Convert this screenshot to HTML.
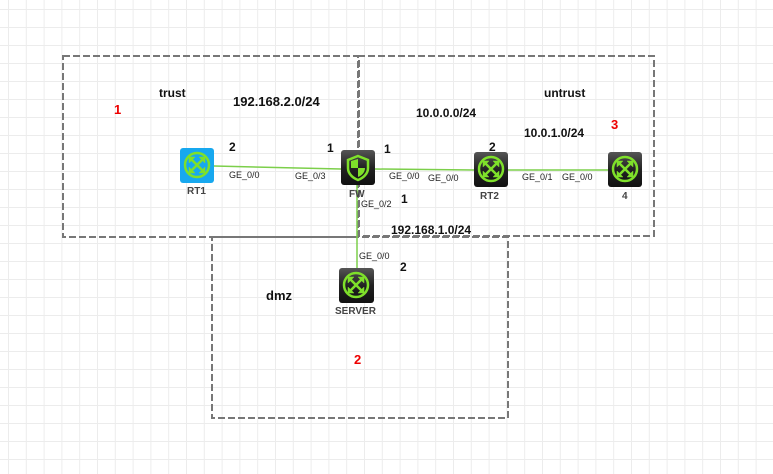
<!DOCTYPE html>
<html><head><meta charset="utf-8"><style>
body{margin:0;width:773px;height:474px;overflow:hidden;background:#fff;font-family:"Liberation Sans",Arial,sans-serif;}
.t{position:absolute;line-height:1;white-space:nowrap;color:#111;}
.b{font-weight:bold;font-size:12px;}
.g{font-size:9px;color:#222;}
.r{color:#e00;font-weight:bold;font-size:13px;}
.n{font-weight:bold;font-size:10px;color:#444;}
</style></head><body>
<svg width="773" height="474" style="position:absolute;left:0;top:0">
<defs>
<pattern id="grid" x="8" y="9" width="17.8" height="18" patternUnits="userSpaceOnUse">
<path d="M0 0V18M0 0H17.8" stroke="#ececec" stroke-width="2" fill="none"/>
</pattern>
<linearGradient id="dk" x1="0" y1="0" x2="0" y2="1"><stop offset="0" stop-color="#555"/><stop offset="0.5" stop-color="#222"/><stop offset="1" stop-color="#111"/></linearGradient>
<g id="rt">
<circle cx="17" cy="17" r="12" fill="none" stroke="#7ee02a" stroke-width="2.5"/>
<g stroke="#7ee02a" stroke-width="2.5" fill="#7ee02a">
<path d="M11 11L23 23M23 11L11 23" fill="none"/>
<path d="M9 9l6 0l-6 6z M25 9l-6 0l6 6z M9 25l6 0l-6-6z M25 25l-6 0l6-6z" stroke-width="0.5"/>
</g>
</g>
</defs>
<rect width="773" height="474" fill="url(#grid)"/>
<g fill="none" stroke="#777" stroke-width="2" stroke-dasharray="7,3">
<rect x="63" y="56" width="296" height="181"/>
<rect x="358" y="56" width="296" height="180"/>
<rect x="212" y="237" width="296" height="181"/>
</g>
<g stroke="#7ccf4a" stroke-width="1.5">
<line x1="214" y1="166" x2="341" y2="169"/>
<line x1="375" y1="169" x2="474" y2="170"/>
<line x1="508" y1="170" x2="608" y2="170"/>
<line x1="357" y1="185" x2="357" y2="268"/>
</g>
<g transform="translate(180,148)"><rect width="34" height="35" rx="3" fill="#17a8ef"/><use href="#rt"/></g>
<g transform="translate(341,150)"><rect width="34" height="35" rx="3" fill="url(#dk)"/>
<path d="M17 6 L27 10 V18 C27 24 22 28 17 30 C12 28 7 24 7 18 V10 Z" fill="none" stroke="#7ee02a" stroke-width="2.5"/>
<path d="M17 9 V18 H10 V11 Z M17 18 H24 C24 23 20 26 17 27 Z" fill="#7ee02a"/></g>
<g transform="translate(474,152)"><rect width="34" height="35" rx="3" fill="url(#dk)"/><use href="#rt"/></g>
<g transform="translate(608,152)"><rect width="34" height="35" rx="3" fill="url(#dk)"/><use href="#rt"/></g>
<g transform="translate(339,268)"><rect width="35" height="35" rx="3" fill="url(#dk)"/><use href="#rt"/></g>
</svg>
<div class="t b" style="left:159px;top:87px">trust</div>
<div class="t b" style="left:233px;top:95px;font-size:13px">192.168.2.0/24</div>
<div class="t r" style="left:114px;top:103px">1</div>
<div class="t b" style="left:416px;top:107px">10.0.0.0/24</div>
<div class="t b" style="left:544px;top:87px">untrust</div>
<div class="t b" style="left:524px;top:127px">10.0.1.0/24</div>
<div class="t r" style="left:611px;top:118px">3</div>
<div class="t b" style="left:229px;top:141px">2</div>
<div class="t b" style="left:327px;top:142px">1</div>
<div class="t b" style="left:384px;top:143px">1</div>
<div class="t b" style="left:489px;top:141px">2</div>
<div class="t g" style="left:229px;top:171px">GE_0/0</div>
<div class="t g" style="left:295px;top:172px">GE_0/3</div>
<div class="t g" style="left:389px;top:172px">GE_0/0</div>
<div class="t g" style="left:428px;top:174px">GE_0/0</div>
<div class="t g" style="left:522px;top:173px">GE_0/1</div>
<div class="t g" style="left:562px;top:173px">GE_0/0</div>
<div class="t n" style="left:187px;top:187px">RT1</div>
<div class="t n" style="left:349px;top:190px">FW</div>
<div class="t n" style="left:480px;top:192px">RT2</div>
<div class="t n" style="left:622px;top:192px">4</div>
<div class="t g" style="left:361px;top:200px">GE_0/2</div>
<div class="t b" style="left:401px;top:193px">1</div>
<div class="t b" style="left:391px;top:224px">192.168.1.0/24</div>
<div class="t g" style="left:359px;top:252px">GE_0/0</div>
<div class="t b" style="left:400px;top:261px">2</div>
<div class="t b" style="left:266px;top:289px;font-size:13px">dmz</div>
<div class="t n" style="left:335px;top:307px">SERVER</div>
<div class="t r" style="left:354px;top:353px">2</div>
</body></html>
